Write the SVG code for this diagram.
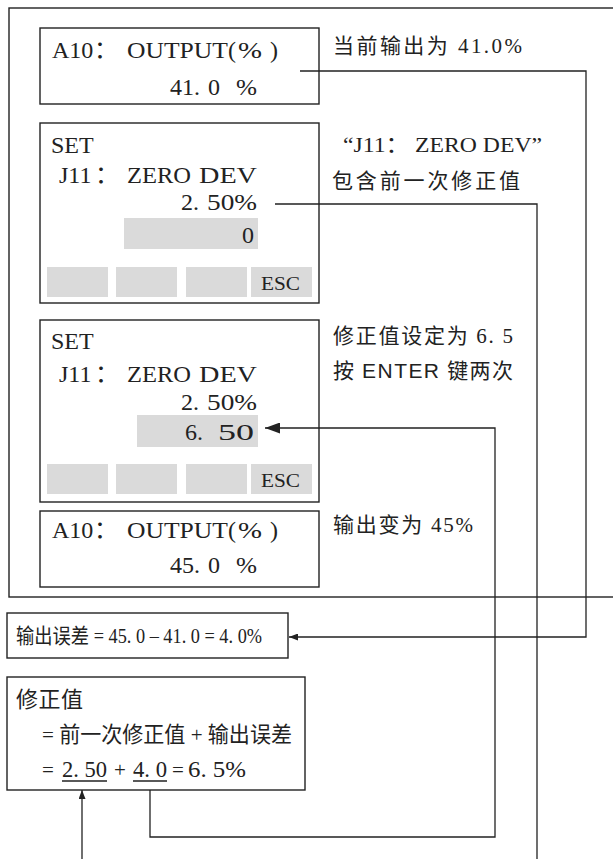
<svg xmlns="http://www.w3.org/2000/svg" width="613" height="859" viewBox="0 0 613 859">
<style>
.f{fill:none;stroke:#222;stroke-width:1.4}
.c{fill:none;stroke:#222;stroke-width:1.3}
.g{fill:#dadada;stroke:none}
.t{font-family:"Liberation Serif","Noto Sans CJK SC",serif;font-size:24px;fill:#222}
.s{font-family:"Liberation Serif","Noto Sans CJK SC",serif;font-size:19px;fill:#222}
.n{font-family:"Liberation Serif","Noto Sans CJK SC",serif;font-size:21px;fill:#222}
.b{font-family:"Liberation Serif","Noto Sans CJK SC",serif;font-size:22px;fill:#222}
.h{font-family:"Liberation Sans",sans-serif}
</style>
<defs>
<marker id="ab" viewBox="0 0 10 10" refX="10" refY="5" markerUnits="userSpaceOnUse" markerWidth="15" markerHeight="11" orient="auto" preserveAspectRatio="none"><path d="M0,0L10,5L0,10z" fill="#222"/></marker>
<marker id="as" viewBox="0 0 10 10" refX="10" refY="5" markerUnits="userSpaceOnUse" markerWidth="9" markerHeight="7" orient="auto" preserveAspectRatio="none"><path d="M0,0L10,5L0,10z" fill="#222"/></marker>
</defs>
<rect width="613" height="859" fill="#fff"/>
<g id="frame"><rect class="f" x="9" y="8" width="620" height="589"/></g>

<g id="box1">
<rect class="f" x="40" y="28" width="279" height="76"/>
<text class="t" x="52" y="58">A10</text>
<text class="t" x="94" y="58">：</text>
<text class="t" x="127" y="58" textLength="101" lengthAdjust="spacingAndGlyphs">OUTPUT</text>
<text class="t" x="228" y="58">(</text>
<text class="t" x="238" y="58" textLength="24" lengthAdjust="spacingAndGlyphs">%</text>
<text class="t" x="270" y="58">)</text>
<text class="t" x="170" y="95">41.</text>
<text class="t" x="208" y="95">0</text>
<text class="t" x="236" y="95" textLength="21" lengthAdjust="spacingAndGlyphs">%</text>
</g>
<g id="note1"><text class="n" x="333" y="53" textLength="189" lengthAdjust="spacing">当前输出为 41.0%</text></g>

<g id="box2">
<rect class="f" x="40" y="123" width="279" height="180"/>
<text class="t" x="51" y="153">SET</text>
<text class="t" x="59" y="183">J11</text>
<text class="t" x="95" y="183">：</text>
<text class="t" x="127" y="183" textLength="64" lengthAdjust="spacingAndGlyphs">ZERO</text>
<text class="t" x="257" y="183" text-anchor="end" textLength="58" lengthAdjust="spacingAndGlyphs">DEV</text>
<text class="t" x="181" y="210">2.</text>
<text class="t" x="257" y="210" text-anchor="end" textLength="50" lengthAdjust="spacingAndGlyphs">50%</text>
<rect class="g" x="124" y="218" width="134" height="31"/>
<text class="t" x="254" y="243" text-anchor="end">0</text>
<rect class="g" x="47" y="267" width="61" height="30"/>
<rect class="g" x="116" y="267" width="61" height="30"/>
<rect class="g" x="186" y="267" width="61" height="30"/>
<rect class="g" x="251" y="267" width="61" height="30"/>
<text class="s" x="261" y="290" textLength="39" lengthAdjust="spacingAndGlyphs">ESC</text>
</g>
<g id="note2">
<text class="b" x="343" y="152" textLength="199" lengthAdjust="spacingAndGlyphs">“J11： ZERO DEV”</text>
<text class="n" x="332" y="188" textLength="188" lengthAdjust="spacing">包含前一次修正值</text>
</g>

<g id="box3">
<rect class="f" x="40" y="320" width="279" height="182"/>
<text class="t" x="51" y="349">SET</text>
<text class="t" x="59" y="382">J11</text>
<text class="t" x="95" y="382">：</text>
<text class="t" x="127" y="382" textLength="64" lengthAdjust="spacingAndGlyphs">ZERO</text>
<text class="t" x="257" y="382" text-anchor="end" textLength="58" lengthAdjust="spacingAndGlyphs">DEV</text>
<text class="t" x="181" y="410">2.</text>
<text class="t" x="257" y="410" text-anchor="end" textLength="50" lengthAdjust="spacingAndGlyphs">50%</text>
<rect class="g" x="137" y="415" width="121" height="32"/>
<text class="t" x="185" y="440">6.</text>
<text class="t" x="254" y="440" text-anchor="end" textLength="36" lengthAdjust="spacingAndGlyphs">50</text>
<rect class="g" x="47" y="464" width="61" height="30"/>
<rect class="g" x="116" y="464" width="61" height="30"/>
<rect class="g" x="186" y="464" width="61" height="30"/>
<rect class="g" x="251" y="464" width="61" height="30"/>
<text class="s" x="261" y="487" textLength="39" lengthAdjust="spacingAndGlyphs">ESC</text>
</g>
<g id="note3">
<text class="n" x="333" y="343" textLength="180" lengthAdjust="spacing">修正值设定为 6. 5</text>
<text class="n" x="333" y="378" textLength="180" lengthAdjust="spacing">按 <tspan class="h">ENTER</tspan> 键两次</text>
</g>

<g id="box4">
<rect class="f" x="40" y="511" width="279" height="76"/>
<text class="t" x="52" y="538">A10</text>
<text class="t" x="94" y="538">：</text>
<text class="t" x="127" y="538" textLength="101" lengthAdjust="spacingAndGlyphs">OUTPUT</text>
<text class="t" x="228" y="538">(</text>
<text class="t" x="238" y="538" textLength="24" lengthAdjust="spacingAndGlyphs">%</text>
<text class="t" x="270" y="538">)</text>
<text class="t" x="170" y="573">45.</text>
<text class="t" x="208" y="573">0</text>
<text class="t" x="236" y="573" textLength="21" lengthAdjust="spacingAndGlyphs">%</text>
</g>
<g id="note4"><text class="n" x="333" y="532" textLength="140" lengthAdjust="spacing">输出变为 45%</text></g>

<g id="errbox">
<rect class="f" x="7" y="613" width="281" height="45"/>
<text class="n" x="16" y="643" textLength="246" lengthAdjust="spacingAndGlyphs">输出误差 = 45. 0 – 41. 0 = 4. 0%</text>
</g>

<g id="corrbox">
<rect class="f" x="7" y="677" width="298" height="113"/>
<text class="b" x="16" y="707" textLength="67" lengthAdjust="spacing">修正值</text>
<text class="b" x="42" y="742" textLength="250" lengthAdjust="spacingAndGlyphs">= 前一次修正值 + 输出误差</text>
<text class="n" x="42" y="777">=</text>
<text class="t" x="62" y="777" textLength="45" lengthAdjust="spacingAndGlyphs">2. 50</text>
<text class="n" x="114" y="777">+</text>
<text class="t" x="133" y="777" textLength="34" lengthAdjust="spacingAndGlyphs">4. 0</text>
<text class="n" x="172" y="777">=</text>
<text class="t" x="188" y="777" textLength="58" lengthAdjust="spacingAndGlyphs">6. 5%</text>
<line class="c" x1="62" y1="781" x2="107" y2="781"/>
<line class="c" x1="133" y1="781" x2="167" y2="781"/>
</g>

<g id="connectors">
<polyline class="c" points="300,71 586,71 586,637 289,637" marker-end="url(#as)"/>
<polyline class="c" points="275,204 537,204 537,859"/>
<polyline class="c" points="150,790 150,837 495,837 495,428 265,428" marker-end="url(#ab)"/>
<line class="c" x1="82" y1="859" x2="82" y2="790" marker-end="url(#as)"/>
</g>
</svg>
